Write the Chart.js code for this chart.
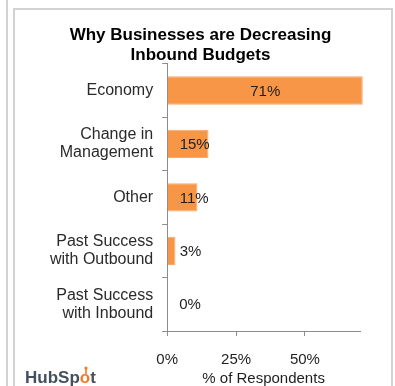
<!DOCTYPE html>
<html>
<head>
<meta charset="utf-8">
<script src="https://cdn.jsdelivr.net/npm/chart.js@4/dist/chart.umd.min.js"></script>
<style>
  html, body { margin: 0; padding: 0; background: #fff; overflow: hidden; }
  #wrap { width: 395px; height: 386px; overflow: hidden; }
  canvas { display: block; }
</style>
</head>
<body>
<div id="wrap"><canvas id="c" width="395" height="388"></canvas></div>
<script>
// Reasons businesses gave for shrinking inbound marketing budgets
const categories = [
  'Economy',
  ['Change in', 'Management'],
  'Other',
  ['Past Success', 'with Outbound'],
  ['Past Success', 'with Inbound']
];
const respondents = [71, 15, 11, 3, 0];   // % of respondents
const axisTicks = [0, 25, 50];            // labelled x positions (%)

const FONT = '"Liberation Sans", Arial, sans-serif';
const ORANGE = '#F79646';
const AXIS = '#8c8c8c';

// Page frame lines and the logo in the bottom-left corner
const framePlugin = {
  id: 'frame',
  beforeDraw(chart) {
    const ctx = chart.ctx;
    const h = chart.height;
    ctx.save();
    ctx.fillStyle = '#fff';
    ctx.fillRect(0, 0, chart.width, h);
    ctx.fillStyle = '#d2d2d2';
    ctx.fillRect(6, 0, 2, h);       // neighbouring panel edge
    ctx.fillRect(13, 8, 2, h);      // box left
    ctx.fillRect(13, 8, 380, 2);    // box top
    ctx.fillRect(391, 8, 2, h);     // box right
    ctx.restore();
  },
  afterDraw(chart) {
    const ctx = chart.ctx;
    ctx.save();
    ctx.font = 'bold 17px ' + FONT;
    ctx.textBaseline = 'alphabetic';
    ctx.textAlign = 'left';
    let x = 25;
    const y = 383;
    ctx.fillStyle = '#45505e';
    ctx.fillText('HubSp', x, y);
    x += ctx.measureText('HubSp').width;
    const ow = ctx.measureText('o').width;
    ctx.fillStyle = '#f47a2a';
    ctx.fillText('o', x, y);
    // sprocket spoke and hub on the "o"
    ctx.strokeStyle = '#f47a2a';
    ctx.lineWidth = 1.6;
    ctx.beginPath();
    ctx.moveTo(x + ow / 2 + 1, y - 9);
    ctx.lineTo(x + ow / 2 + 1, y - 14);
    ctx.stroke();
    ctx.beginPath();
    ctx.arc(x + ow / 2 + 1, y - 15, 1.6, 0, Math.PI * 2);
    ctx.fill();
    x += ow;
    ctx.fillStyle = '#45505e';
    ctx.fillText('t', x, y);
    ctx.restore();
  }
};

// Value labels: centred on long bars, just past the base on short ones
const valueLabels = {
  id: 'valueLabels',
  afterDatasetsDraw(chart) {
    const ctx = chart.ctx;
    const meta = chart.getDatasetMeta(0);
    const data = chart.data.datasets[0].data;
    ctx.save();
    ctx.font = '15px ' + FONT;
    ctx.fillStyle = '#1e1e1e';
    ctx.textBaseline = 'middle';
    meta.data.forEach((bar, i) => {
      const text = data[i] + '%';
      const tw = ctx.measureText(text).width;
      const width = bar.x - bar.base;
      if (width > tw * 2) {
        ctx.textAlign = 'center';
        ctx.fillText(text, (bar.x + bar.base) / 2, bar.y + 1);
      } else {
        ctx.textAlign = 'left';
        ctx.fillText(text, bar.base + 12, bar.y + 1);
      }
    });
    ctx.restore();
  }
};

new Chart(document.getElementById('c'), {
  type: 'bar',
  data: {
    labels: categories,
    datasets: [{
      data: respondents,
      backgroundColor: ORANGE,
      borderColor: '#f9a86a',
      borderWidth: 1,
      borderSkipped: 'start',
      categoryPercentage: 1,
      barPercentage: 0.53,
      clip: false
    }]
  },
  options: {
    indexAxis: 'y',
    responsive: false,
    animation: false,
    devicePixelRatio: 1,
    layout: { padding: { left: 41, right: 35, top: 0, bottom: 0 } },
    plugins: {
      legend: { display: false },
      tooltip: { enabled: false },
      title: {
        display: true,
        text: ['Why Businesses are Decreasing', 'Inbound Budgets'],
        color: '#000',
        font: { family: FONT, size: 17, weight: 'bold', lineHeight: 1.2 },
        padding: { top: 25, bottom: -2 }
      }
    },
    scales: {
      x: {
        min: 0,
        max: 70,
        afterBuildTicks(scale) {
          scale.ticks = axisTicks.map(v => ({ value: v }));
        },
        ticks: {
          callback: v => v + '%',
          color: '#1e1e1e',
          font: { family: FONT, size: 15 },
          padding: 15,
          maxRotation: 0
        },
        grid: {
          drawOnChartArea: false,
          drawTicks: true,
          tickLength: 5,
          color: AXIS
        },
        border: { color: AXIS, width: 1 },
        title: {
          display: true,
          text: '% of Respondents',
          color: '#1e1e1e',
          font: { family: FONT, size: 15, lineHeight: 1.2 },
          padding: { top: -14, bottom: 0 }
        }
      },
      y: {
        ticks: {
          color: '#2a2a2a',
          font: { family: FONT, size: 16, lineHeight: 1.125 },
          padding: 9
        },
        grid: {
          offset: true,
          drawOnChartArea: false,
          drawTicks: true,
          tickLength: 5,
          color: AXIS
        },
        border: { color: AXIS, width: 1 }
      }
    }
  },
  plugins: [framePlugin, valueLabels]
});
</script>
</body>
</html>
